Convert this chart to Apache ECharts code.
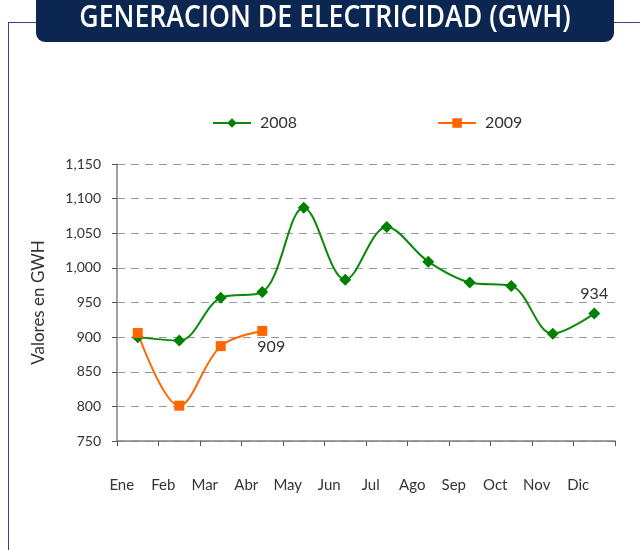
<!DOCTYPE html>
<html><head><meta charset="utf-8">
<script src="https://cdn.jsdelivr.net/npm/echarts@6/dist/echarts.min.js"></script>
<style>html,body{margin:0;padding:0;background:#fff}#c{width:640px;height:550px}</style>
</head><body><div id="c"></div>
<script>
const months = ['Ene','Feb','Mar','Abr','May','Jun','Jul','Ago','Sep','Oct','Nov','Dic'];
const values2008 = [900, 895, 957, 965, 1087, 983, 1059, 1009, 979, 974, 905, 934];
const values2009 = [906, 801, 887, 909];
const yTicks = {min: 750, max: 1150, step: 50};
const titleText = 'GENERACION DE ELECTRICIDAD (GWH)';
const yName = 'Valores en GWH';

const font = 'Lato';
const chart = echarts.init(document.getElementById('c'));
const fmt = v => v.toLocaleString('en-US');
chart.setOption({
  animation: false,
  graphic: [
    {type:'line', shape:{x1:8,y1:22.5,x2:36,y2:22.5}, style:{stroke:'#3c3c9c',lineWidth:1}},
    {type:'line', shape:{x1:614,y1:22.5,x2:640,y2:22.5}, style:{stroke:'#3c3c9c',lineWidth:1}},
    {type:'line', shape:{x1:8.5,y1:22,x2:8.5,y2:550}, style:{stroke:'#3c3c9c',lineWidth:1}},
    {type:'rect', shape:{x:36,y:0,width:578,height:42,r:[0,0,9,9]}, style:{fill:'#0b2650'}},
    {type:'text', x:325, y:18.5, scaleX:0.86, originX:0, originY:0,
     style:{text:titleText, fill:'#fff', align:'center', verticalAlign:'middle', font:'600 31px "Open Sans", sans-serif'}}
  ],
  legend: {
    top: 110, left: 207, itemWidth: 38, itemHeight: 12, itemGap: 140,
    textStyle: {fontFamily: font, fontSize: 16, color: '#333', padding: [0,0,0,4]},
    data: ['2008','2009']
  },
  grid: {left: 117, right: 25, top: 164, bottom: 109},
  xAxis: {
    type: 'category', data: months, boundaryGap: true,
    axisLine: {lineStyle: {color: '#808080', width: 1.5}},
    axisTick: {show: true, length: 5, lineStyle: {color: '#555'}},
    axisLabel: {margin: 37, fontFamily: font, fontSize: 15, color: '#333', padding: [0, 32, 0, 0]}
  },
  yAxis: {
    type: 'value', min: yTicks.min, max: yTicks.max, interval: yTicks.step,
    name: yName, nameLocation: 'middle', nameGap: 70,
    nameTextStyle: {fontFamily: font, fontSize: 17, color: '#333'},
    axisLine: {show: true, lineStyle: {color: '#808080', width: 1.5}},
    axisTick: {show: true, length: 5, lineStyle: {color: '#555'}},
    axisLabel: {margin: 16, fontFamily: font, fontSize: 14, color: '#333', formatter: fmt},
    splitLine: {lineStyle: {color: '#999', type: [8, 6]}}
  },
  series: [
    {name: '2008', type: 'line', smooth: 0.35, data: values2008.map((v,i)=> i===11 ? {value:v, label:{show:true, position:'top', distance:6}} : v),
     symbol: 'diamond', symbolSize: 12, lineStyle: {color:'#0a8a0a', width: 2}, itemStyle: {color: '#008000'},
     label: {show:false, fontFamily: font, fontSize: 16, color: '#333'}},
    {name: '2009', type: 'line', smooth: 0.35, data: values2009.map((v,i)=> i===3 ? {value:v, label:{show:true, position:'bottom', distance:3, offset:[9,0]}} : v),
     symbol: 'rect', symbolSize: 10, lineStyle: {color:'#ff6600', width: 2}, itemStyle: {color: '#ff6600'},
     label: {show:false, fontFamily: font, fontSize: 16, color: '#333'}}
  ]
});
</script></body></html>
